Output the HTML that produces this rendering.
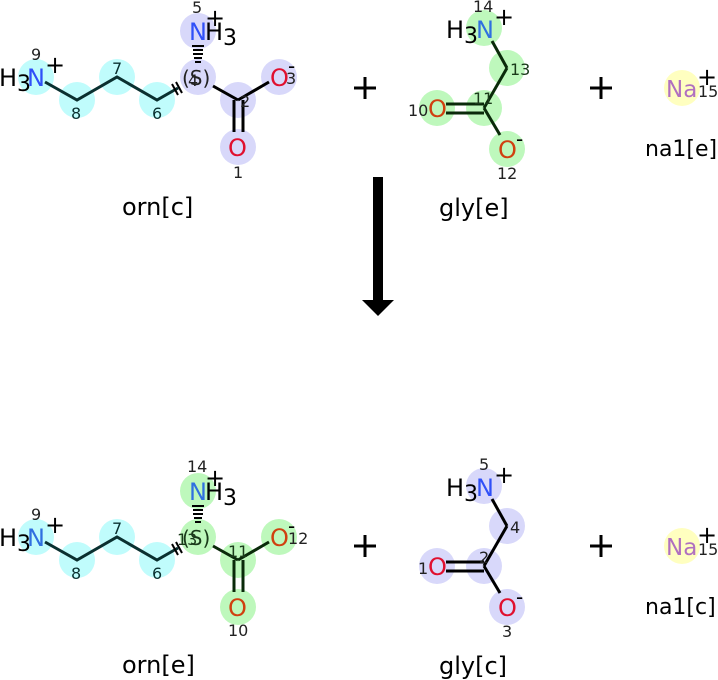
<!DOCTYPE html>
<html><head><meta charset="utf-8"><style>html,body{margin:0;padding:0;background:#fff}svg{display:block}text{font-family:"DejaVu Sans","Liberation Sans",sans-serif}</style></head>
<body>
<svg width="718" height="680" viewBox="0 0 718 680" xmlns="http://www.w3.org/2000/svg">
<!-- TOP ORN -->
<g>
<g fill="#c0fcfc"><circle cx="36" cy="77" r="18"/><circle cx="77" cy="100" r="18"/><circle cx="117" cy="77" r="18"/><circle cx="157" cy="100" r="18"/></g>
<g fill="#d8d8fa"><circle cx="198" cy="77" r="18"/><circle cx="198" cy="31" r="18"/><circle cx="238" cy="100" r="18"/><circle cx="279" cy="77" r="18"/><circle cx="238" cy="147" r="18"/></g>
<g stroke="#0a3030" stroke-width="3" fill="none"><polyline points="45,82 77,100 117,77 157,100 178,88"/></g>
<g stroke="#000" stroke-width="3"><line x1="213" y1="86" x2="238" y2="100"/><line x1="238" y1="100" x2="269" y2="82"/><line x1="234" y1="100" x2="234" y2="132"/><line x1="243" y1="100" x2="243" y2="132"/></g>
<g stroke="#000" stroke-width="2"><line x1="192" y1="46" x2="204" y2="46"/><line x1="193" y1="50" x2="203" y2="50"/><line x1="193" y1="54" x2="203" y2="54"/><line x1="194" y1="58" x2="202" y2="58"/><line x1="195" y1="62" x2="201" y2="62"/><line x1="172" y1="84" x2="178" y2="95"/><line x1="176" y1="82" x2="182" y2="93"/></g>
<text x="-1" y="86" font-size="24">H<tspan font-size="22" dy="5">3</tspan></text>
<text x="27" y="86" font-size="24" fill="#3050f8">N</text>
<text x="45" y="73" font-size="24">+</text>
<text x="31" y="60" font-size="16" fill="#222">9</text>
<text x="71" y="119" font-size="16" fill="#0a3030">8</text>
<text x="112" y="74" font-size="16" fill="#0a3030">7</text>
<text x="152" y="119" font-size="16" fill="#0a3030">6</text>
<text x="182" y="85" font-size="20" fill="#222">(S)</text>
<text x="188" y="86" font-size="16" fill="#222">4</text>
<text x="189" y="40" font-size="24" fill="#3050f8">N</text>
<text x="205" y="40" font-size="24">H<tspan font-size="22" dy="5">3</tspan></text>
<text x="205" y="26" font-size="24">+</text>
<text x="192" y="13" font-size="16" fill="#222">5</text>
<text x="240" y="107" font-size="16" fill="#222">2</text>
<text x="270" y="86" font-size="24" fill="#e0102f">O</text>
<text x="286" y="84" font-size="16" fill="#222">3</text>
<text x="288" y="73" font-size="20">-</text>
<text x="228" y="156" font-size="24" fill="#e0102f">O</text>
<text x="233" y="178" font-size="16" fill="#222">1</text>
<text x="122" y="215" font-size="24">orn[c]</text>
</g>
<!-- BOTTOM ORN -->
<g transform="translate(0,460)">
<g fill="#c0fcfc"><circle cx="36" cy="77" r="18"/><circle cx="77" cy="100" r="18"/><circle cx="117" cy="77" r="18"/><circle cx="157" cy="100" r="18"/></g>
<g fill="#bef8bc"><circle cx="198" cy="77" r="18"/><circle cx="198" cy="31" r="18"/><circle cx="238" cy="100" r="18"/><circle cx="279" cy="77" r="18"/><circle cx="238" cy="147" r="18"/></g>
<g stroke="#0a3030" stroke-width="3" fill="none"><polyline points="45,82 77,100 117,77 157,100 178,88"/></g>
<g stroke="#0a2a0a" stroke-width="3"><line x1="213" y1="86" x2="238" y2="100"/><line x1="238" y1="100" x2="269" y2="82"/><line x1="234" y1="100" x2="234" y2="132"/><line x1="243" y1="100" x2="243" y2="132"/></g>
<g stroke="#000" stroke-width="2"><line x1="192" y1="46" x2="204" y2="46"/><line x1="193" y1="50" x2="203" y2="50"/><line x1="193" y1="54" x2="203" y2="54"/><line x1="194" y1="58" x2="202" y2="58"/><line x1="195" y1="62" x2="201" y2="62"/><line x1="172" y1="84" x2="178" y2="95"/><line x1="176" y1="82" x2="182" y2="93"/></g>
<text x="-1" y="86" font-size="24">H<tspan font-size="22" dy="5">3</tspan></text>
<text x="27" y="86" font-size="24" fill="#3070e0">N</text>
<text x="45" y="73" font-size="24">+</text>
<text x="31" y="60" font-size="16" fill="#222">9</text>
<text x="71" y="119" font-size="16" fill="#0a3030">8</text>
<text x="112" y="74" font-size="16" fill="#0a3030">7</text>
<text x="152" y="119" font-size="16" fill="#0a3030">6</text>
<text x="182" y="85" font-size="20" fill="#1a3a1a">(S)</text>
<text x="177" y="85" font-size="16" fill="#1a3a1a">13</text>
<text x="189" y="40" font-size="24" fill="#3070e0">N</text>
<text x="205" y="40" font-size="24">H<tspan font-size="22" dy="5">3</tspan></text>
<text x="205" y="26" font-size="24">+</text>
<text x="187" y="12" font-size="16" fill="#222">14</text>
<text x="228" y="97" font-size="16" fill="#1a3a1a">11</text>
<text x="270" y="86" font-size="24" fill="#d04010">O</text>
<text x="288" y="84" font-size="16" fill="#222">12</text>
<text x="288" y="73" font-size="20">-</text>
<text x="228" y="156" font-size="24" fill="#d04010">O</text>
<text x="228" y="176" font-size="16" fill="#222">10</text>
<text x="122" y="213" font-size="24">orn[e]</text>
</g>
<!-- TOP GLY -->
<g fill="#bef8bc"><circle cx="484" cy="28" r="18"/><circle cx="507" cy="68" r="18"/><circle cx="484" cy="108" r="18"/><circle cx="437" cy="108" r="18"/><circle cx="507" cy="149" r="18"/></g>
<g stroke="#0a2a0a" stroke-width="3"><line x1="492" y1="41" x2="507" y2="68"/><line x1="507" y1="68" x2="484" y2="108"/><line x1="484" y1="108" x2="500" y2="135"/><line x1="446" y1="104" x2="484" y2="104"/><line x1="446" y1="113" x2="484" y2="113"/></g>
<text x="446" y="38" font-size="24">H<tspan font-size="22" dy="5">3</tspan></text>
<text x="476" y="38" font-size="24" fill="#3070e0">N</text>
<text x="494" y="25" font-size="24">+</text>
<text x="473" y="12" font-size="16" fill="#222">14</text>
<text x="510" y="75" font-size="16" fill="#1a3a1a">13</text>
<text x="473" y="104" font-size="16" fill="#1a3a1a">11</text>
<text x="428" y="117" font-size="24" fill="#d04010">O</text>
<text x="408" y="116" font-size="16" fill="#222">10</text>
<text x="498" y="158" font-size="24" fill="#d04010">O</text>
<text x="516" y="146" font-size="20">-</text>
<text x="497" y="179" font-size="16" fill="#222">12</text>
<text x="439" y="216" font-size="24">gly[e]</text>
<!-- BOTTOM GLY -->
<g fill="#d8d8fa"><circle cx="484" cy="486" r="18"/><circle cx="507" cy="526" r="18"/><circle cx="484" cy="566" r="18"/><circle cx="437" cy="566" r="18"/><circle cx="507" cy="607" r="18"/></g>
<g stroke="#000" stroke-width="3"><line x1="492" y1="499" x2="507" y2="526"/><line x1="507" y1="526" x2="484" y2="566"/><line x1="484" y1="566" x2="500" y2="593"/><line x1="446" y1="562" x2="484" y2="562"/><line x1="446" y1="571" x2="484" y2="571"/></g>
<text x="446" y="496" font-size="24">H<tspan font-size="22" dy="5">3</tspan></text>
<text x="476" y="496" font-size="24" fill="#3050f8">N</text>
<text x="494" y="483" font-size="24">+</text>
<text x="479" y="470" font-size="16" fill="#222">5</text>
<text x="510" y="533" font-size="16" fill="#222">4</text>
<text x="479" y="563" font-size="16" fill="#222">2</text>
<text x="428" y="575" font-size="24" fill="#e0102f">O</text>
<text x="418" y="574" font-size="16" fill="#222">1</text>
<text x="498" y="616" font-size="24" fill="#e0102f">O</text>
<text x="516" y="604" font-size="20">-</text>
<text x="502" y="637" font-size="16" fill="#222">3</text>
<text x="439" y="674" font-size="24">gly[c]</text>
<!-- NA -->
<circle cx="682" cy="88" r="18" fill="#ffffc0"/>
<text x="666" y="97" font-size="23" fill="#b070c0">Na</text>
<text x="697" y="85" font-size="24">+</text>
<text x="698" y="97" font-size="16" fill="#222">15</text>
<text x="645" y="156" font-size="22">na1[e]</text>
<circle cx="682" cy="546" r="18" fill="#ffffc0"/>
<text x="666" y="555" font-size="23" fill="#b070c0">Na</text>
<text x="697" y="543" font-size="24">+</text>
<text x="698" y="555" font-size="16" fill="#222">15</text>
<text x="645" y="614" font-size="22">na1[c]</text>
<!-- PLUSES -->
<g stroke="#000" stroke-width="3"><line x1="354" y1="88" x2="376" y2="88"/><line x1="365" y1="77" x2="365" y2="99"/><line x1="590" y1="88" x2="612" y2="88"/><line x1="601" y1="77" x2="601" y2="99"/><line x1="354" y1="546" x2="376" y2="546"/><line x1="365" y1="535" x2="365" y2="557"/><line x1="590" y1="546" x2="612" y2="546"/><line x1="601" y1="535" x2="601" y2="557"/></g>
<!-- ARROW -->
<rect x="373" y="177" width="10" height="125" fill="#000"/>
<polygon points="362,300 394,300 378,316" fill="#000"/>
</svg>
</body></html>
